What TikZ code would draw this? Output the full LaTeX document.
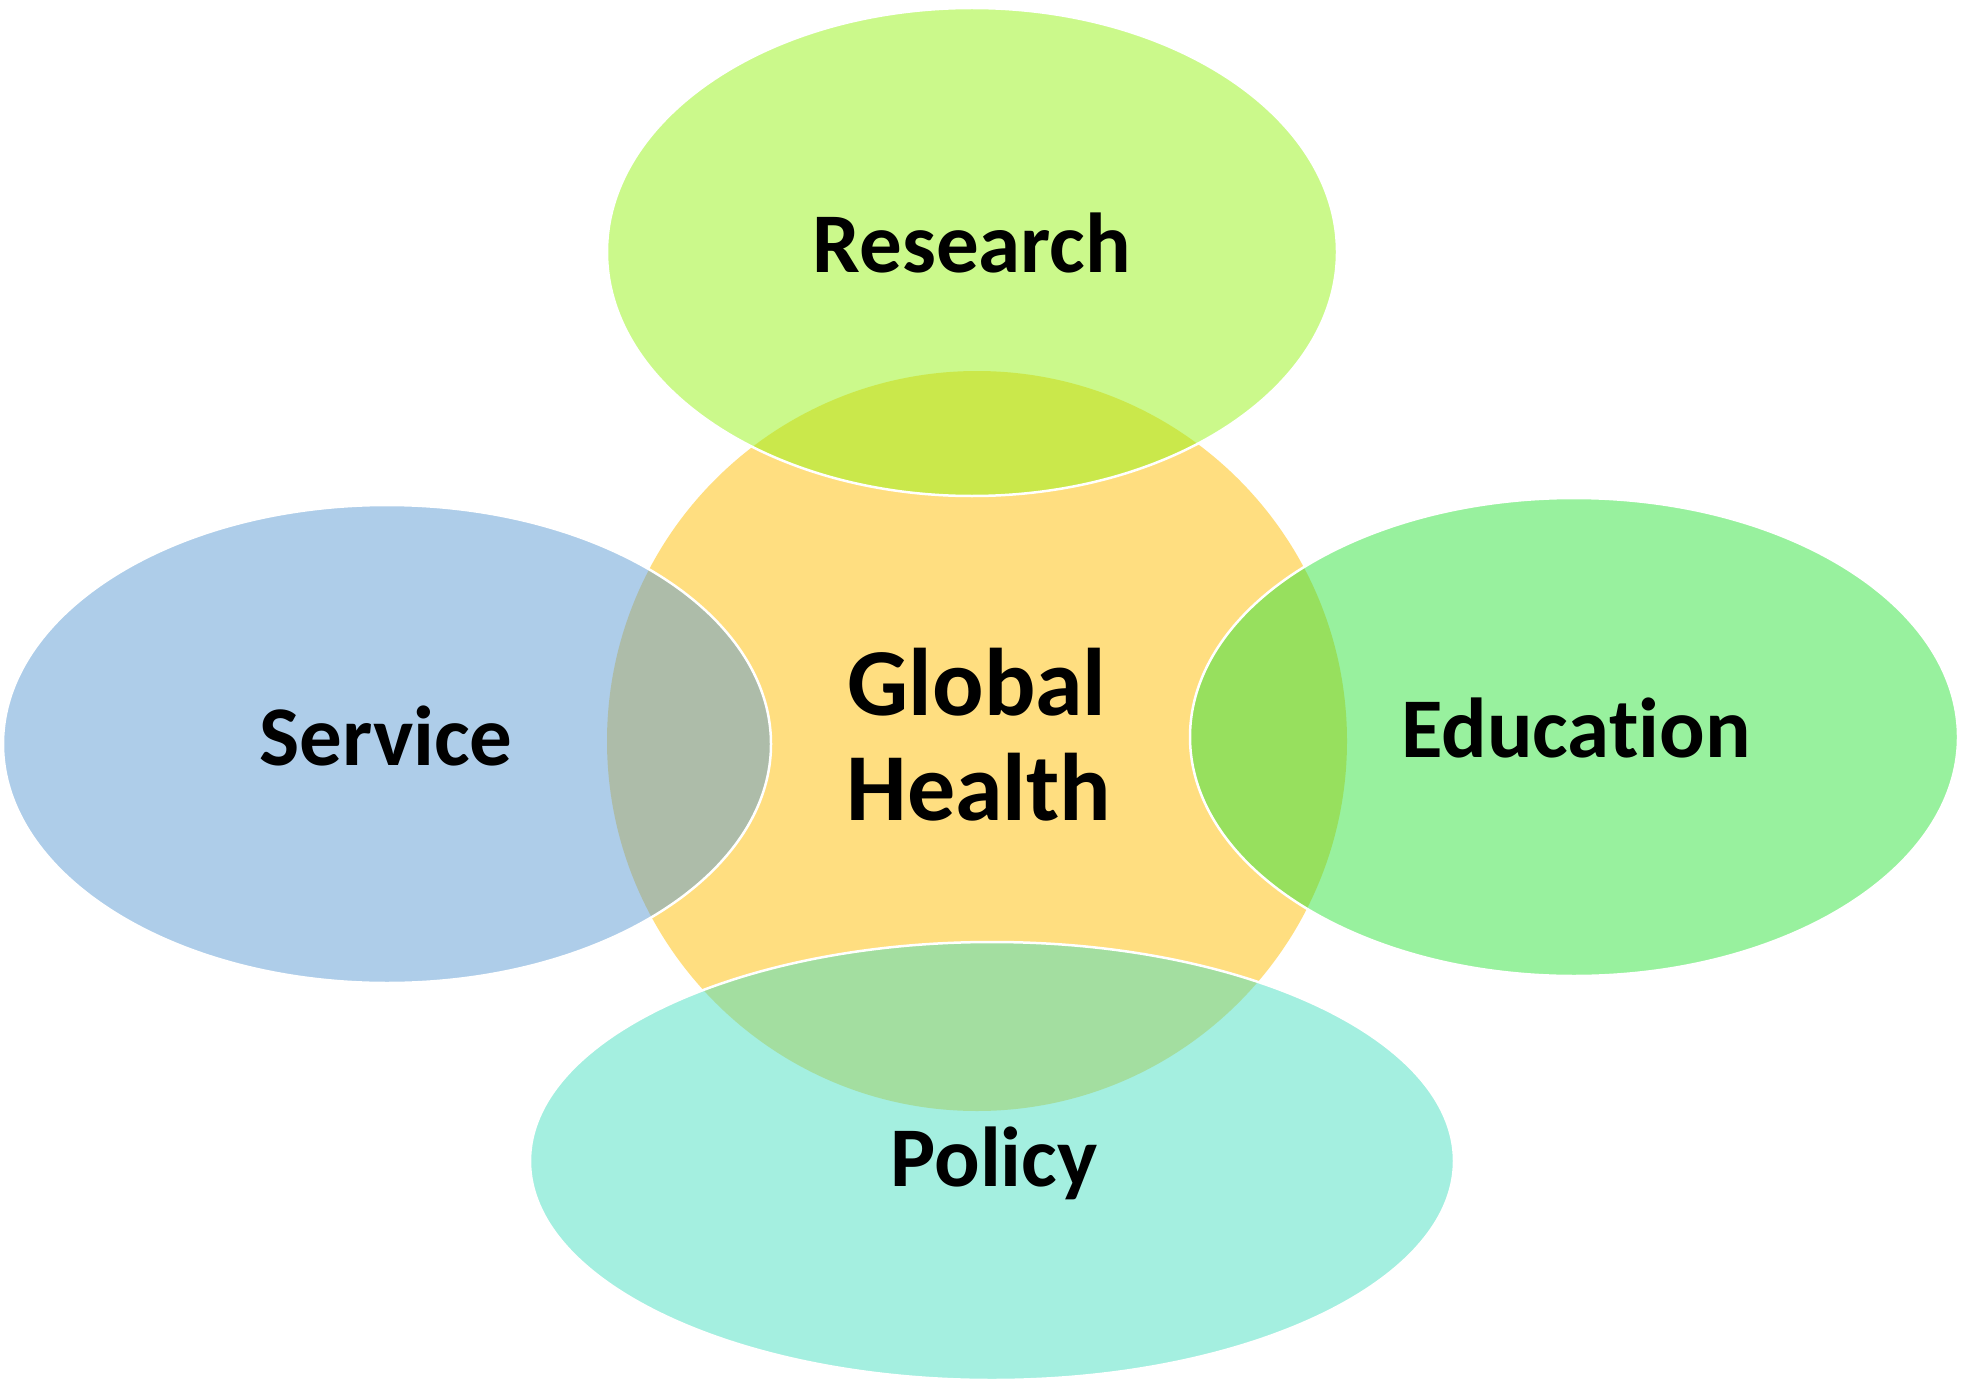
\documentclass[tikz,border=0pt]{standalone}
\usepackage{fontspec}
\setmainfont{Carlito}[Ligatures={NoCommon,NoRare,NoContextual},RawFeature={-liga;-clig;-dlig}]
\usetikzlibrary{shapes.geometric}
\definecolor{cCircle}{RGB}{255,222,128}
\definecolor{cResearch}{RGB}{151,243,23}
\definecolor{cService}{RGB}{93,155,211}
\definecolor{cEducation}{RGB}{49,227,61}
\definecolor{cPolicy}{RGB}{73,223,193}
\begin{document}
\begin{tikzpicture}[x=1pt,y=-1pt,
  blob/.style={ellipse, inner sep=0pt, outer sep=0pt, draw=white, line width=2.5pt, fill opacity=0.5},
  lbl/.style={font=\bfseries\fontsize{85}{100}\selectfont, anchor=base, inner sep=0pt, text=black},
  biglbl/.style={font=\bfseries\fontsize{96}{105}\selectfont, anchor=base, inner sep=0pt, text=black}]
\useasboundingbox (0,0) rectangle (1962,1380);
\node[circle, fill=cCircle, minimum size=740pt, inner sep=0pt, outer sep=0pt] (gh) at (977,741) {};
\node[blob, fill=cResearch, minimum width=730pt, minimum height=488pt] (research) at (972,252) {};
\node[blob, fill=cService, minimum width=768pt, minimum height=478pt] (service) at (387,744) {};
\node[blob, fill=cEducation, minimum width=768pt, minimum height=478pt] (education) at (1574,737) {};
\node[blob, fill=cPolicy, minimum width=924pt, minimum height=438pt] (policy) at (992,1161) {};
\node[lbl] (tresearch) at (972,273) {Research};
\node[lbl] (tservice) at (386,765) {Service};
\node[lbl] (teducation) at (1576,757) {Educat\kern0pt ion};
\node[lbl] (tpolicy) at (994,1186) {Policy};
\node[biglbl] (tglobal) at (977,715) {Global};
\node[biglbl] (thealth) at (979,820) {Health};
\end{tikzpicture}
\end{document}
